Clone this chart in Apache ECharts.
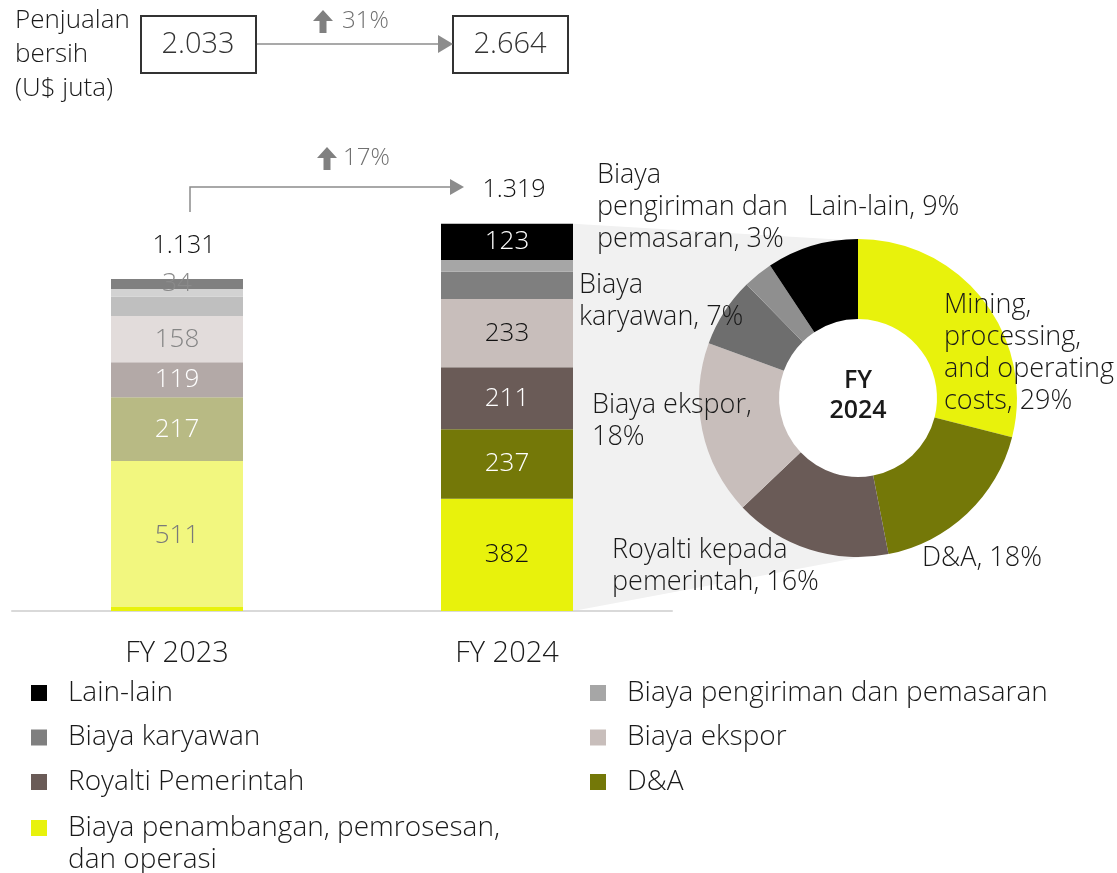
<!DOCTYPE html>
<html>
<head>
<meta charset="utf-8">
<script src="https://cdn.jsdelivr.net/npm/echarts@6/dist/echarts.min.js"></script>
<style>
  html, body { margin: 0; padding: 0; background: #fff; }
  #chart { width: 1117px; height: 873px; }
</style>
</head>
<body>
<div id="chart"></div>
<script>
// values (US$ juta)
const categories = ['FY 2023', 'FY 2024'];
const seriesNames = [
  'Biaya penambangan, pemrosesan, dan operasi',
  'D&A',
  'Royalti Pemerintah',
  'Biaya ekspor',
  'Biaya karyawan',
  'Biaya pengiriman dan pemasaran',
  'Lain-lain'
];
const miningCosts = [511, 382];
const depreciation = [217, 237];
const royalty = [119, 211];
const exportCosts = [158, 233];
const employeeCosts = [66, 93];
const shippingCosts = [26, 40];
const otherCosts = [34, 123];
const totalCosts = [1131, 1319];
const netSales = [2033, 2664];
const salesGrowth = '31%';
const costGrowth = '17%';

const pieNames = [
  'Mining, processing, and operating costs',
  'D&A',
  'Royalti kepada pemerintah',
  'Biaya ekspor',
  'Biaya karyawan',
  'Biaya pengiriman dan pemasaran',
  'Lain-lain'
];
const pieLabelText = [
  'Mining,\nprocessing,\nand operating\ncosts, {p}%',
  'D&A, {p}%',
  'Royalti kepada\npemerintah, {p}%',
  'Biaya ekspor,\n{p}%',
  'Biaya\nkaryawan, {p}%',
  'Biaya\npengiriman dan\npemasaran, {p}%',
  'Lain-lain, {p}%'
];

// styles
const FONT = '"Open Sans", sans-serif';
const W = 300;
const colors2024 = ['#E8F20C', '#747808', '#6A5B57', '#C8BEBB', '#7F7F7F', '#A6A6A6', '#000000'];
const colors2023 = [
  new echarts.graphic.LinearGradient(0, 0, 0, 1, [
    { offset: 0, color: '#F2F77F' }, { offset: 0.973, color: '#F2F77F' },
    { offset: 0.973, color: '#E8F20C' }, { offset: 1, color: '#E8F20C' }
  ]),
  '#B8BA84', '#B3A9A7', '#E2DCDB', '#BFBFBF', '#D2D2D2', '#808080'
];
const pieColors = ['#E8F20C', '#747808', '#6A5B57', '#C8BEBB', '#6E6E6E', '#8F8F8F', '#000000'];
const labelColors2023 = ['#7a7a7a', '#ffffff', '#ffffff', '#858585', null, null, '#8a8a8a'];
const labelColors2024 = ['#111111', '#ffffff', '#ffffff', '#111111', null, null, '#ffffff'];
const pieLabelPos = [[944, 289], [922, 542], [612, 534], [592, 389], [579, 269], [597, 159], [808, 191]];
const pieCenter = [858, 398];
const pieRadius = [79, 159];

function fmt(n) {
  return String(n).replace(/\B(?=(\d{3})+(?!\d))/g, '.');
}

const stackValues = [miningCosts, depreciation, royalty, exportCosts, employeeCosts, shippingCosts, otherCosts];

const barSeries = stackValues.map(function (values, i) {
  return {
    name: seriesNames[i],
    type: 'bar',
    stack: 'cost',
    barWidth: 132,
    itemStyle: { color: colors2024[i] },
    data: values.map(function (v, j) {
      const lc = j === 0 ? labelColors2023[i] : labelColors2024[i];
      return {
        value: v,
        itemStyle: { color: j === 0 ? colors2023[i] : colors2024[i] },
        label: {
          show: lc !== null,
          color: lc || '#000',
          position: 'inside',
          fontFamily: FONT,
          fontWeight: W,
          fontSize: 26
        }
      };
    })
  };
});

// zero-height stack top carrying the total labels
barSeries.push({
  name: 'Total',
  type: 'bar',
  stack: 'cost',
  barWidth: 132,
  data: totalCosts.map(function () { return 0; }),
  label: {
    show: true,
    position: 'top',
    distance: 21,
    offset: [7, 0],
    color: '#111',
    fontFamily: FONT,
    fontWeight: W,
    fontSize: 25,
    formatter: function (p) { return fmt(totalCosts[p.dataIndex]); }
  }
});

const pieSeries = {
  name: 'FY 2024',
  type: 'pie',
  center: pieCenter,
  radius: pieRadius,
  startAngle: 90,
  avoidLabelOverlap: false,
  z: 3,
  label: {
    show: true,
    color: '#1a1a1a',
    fontFamily: FONT,
    fontWeight: W,
    fontSize: 27,
    lineHeight: 32,
    formatter: function (p) {
      return pieLabelText[p.dataIndex].replace('{p}', Math.round(p.percent));
    }
  },
  labelLine: { show: false },
  labelLayout: function (p) {
    const pos = pieLabelPos[p.dataIndex];
    return { x: pos[0], y: pos[1], align: 'left', verticalAlign: 'top' };
  },
  emphasis: { disabled: true },
  data: stackValues.map(function (values, i) {
    return { name: pieNames[i], value: values[1], itemStyle: { color: pieColors[i] } };
  })
};

const legendText = { fontFamily: FONT, fontWeight: W, fontSize: 28, color: '#1a1a1a', lineHeight: 32, padding: [0, 0, 0, 16] };

const graphics = [
  // net sales row
  { id: 'salesTitle', type: 'text', style: { text: 'Penjualan\nbersih\n(U$ juta)', x: 15, y: 4, fontFamily: FONT, fontWeight: W, fontSize: 26, lineHeight: 34, fill: '#1a1a1a' } },
  { id: 'box1', type: 'rect', shape: { x: 141, y: 16, width: 115, height: 57 }, style: { fill: '#fff', stroke: '#333', lineWidth: 2 } },
  { id: 'box1t', type: 'text', style: { text: fmt(netSales[0]), x: 198, y: 45, textAlign: 'center', textVerticalAlign: 'middle', fontFamily: FONT, fontWeight: W, fontSize: 29, fill: '#333' } },
  { id: 'box2', type: 'rect', shape: { x: 453, y: 16, width: 115, height: 57 }, style: { fill: '#fff', stroke: '#333', lineWidth: 2 } },
  { id: 'box2t', type: 'text', style: { text: fmt(netSales[1]), x: 510, y: 45, textAlign: 'center', textVerticalAlign: 'middle', fontFamily: FONT, fontWeight: W, fontSize: 29, fill: '#333' } },
  { id: 'salesLine', type: 'polyline', shape: { points: [[257, 44], [440, 44]] }, style: { stroke: '#8c8c8c', lineWidth: 1.5, fill: null } },
  { id: 'salesHead', type: 'polygon', shape: { points: [[438, 35], [453, 44], [438, 53]] }, style: { fill: '#8c8c8c' } },
  { id: 'salesUp', type: 'polygon', shape: { points: [[323, 10], [333, 21], [326.5, 21], [326.5, 33], [319.5, 33], [319.5, 21], [313, 21]] }, style: { fill: '#808080' } },
  { id: 'salesPct', type: 'text', style: { text: salesGrowth, x: 342, y: 21, textVerticalAlign: 'middle', fontFamily: FONT, fontWeight: W, fontSize: 24, fill: '#707070' } },
  // cost growth bracket
  { id: 'costLine', type: 'polyline', shape: { points: [[190, 212], [190, 187], [452, 187]] }, style: { stroke: '#8c8c8c', lineWidth: 1.5, fill: null } },
  { id: 'costHead', type: 'polygon', shape: { points: [[450, 179], [464, 187], [450, 195]] }, style: { fill: '#8c8c8c' } },
  { id: 'costUp', type: 'polygon', shape: { points: [[327, 147], [337, 158], [330.5, 158], [330.5, 170], [323.5, 170], [323.5, 158], [317, 158]] }, style: { fill: '#808080' } },
  { id: 'costPct', type: 'text', style: { text: costGrowth, x: 343, y: 158, textVerticalAlign: 'middle', fontFamily: FONT, fontWeight: W, fontSize: 24, fill: '#707070' } },
  // donut centre
  { id: 'pieTitle', type: 'text', z: 10, style: { text: 'FY\n2024', x: pieCenter[0], y: pieCenter[1] - 2, textAlign: 'center', textVerticalAlign: 'middle', fontFamily: FONT, fontWeight: 600, fontSize: 25, lineHeight: 30, fill: '#1a1a1a' } }
];

const chart = echarts.init(document.getElementById('chart'));

const option = {
  animation: false,
  backgroundColor: '#fff',
  grid: { left: 12, top: 200, width: 660, height: 411, containLabel: false },
  xAxis: {
    type: 'category',
    data: categories,
    axisLine: { lineStyle: { color: '#d9d9d9', width: 2 } },
    axisTick: { show: false },
    axisLabel: { color: '#1a1a1a', fontFamily: FONT, fontWeight: W, fontSize: 29, margin: 28 }
  },
  yAxis: { type: 'value', min: 0, max: 1400, show: false, splitLine: { show: false } },
  legend: [
    {
      orient: 'vertical', left: 31, top: 677, padding: 0, itemGap: 12.5,
      itemWidth: 16, itemHeight: 16, icon: 'rect', selectedMode: false,
      textStyle: legendText,
      data: ['Lain-lain', 'Biaya karyawan', 'Royalti Pemerintah']
    },
    {
      // square sits beside the first of the two text lines
      orient: 'vertical', left: 31, top: 812, padding: 0,
      itemWidth: 16, itemHeight: 48, selectedMode: false,
      icon: 'path://M0,0H16V16H0Z M0,47.99H16V48H0Z',
      textStyle: legendText,
      formatter: function () { return 'Biaya penambangan, pemrosesan,\ndan operasi'; },
      data: [seriesNames[0]]
    },
    {
      orient: 'vertical', left: 590, top: 677, padding: 0, itemGap: 12.5,
      itemWidth: 16, itemHeight: 16, icon: 'rect', selectedMode: false,
      textStyle: legendText,
      data: ['Biaya pengiriman dan pemasaran', 'Biaya ekspor', 'D&A']
    }
  ],
  graphic: { elements: graphics },
  series: barSeries.concat([pieSeries])
};

chart.setOption(option);

// grey "zoom" band from the FY 2024 bar to the donut
const topPt = chart.convertToPixel({ xAxisIndex: 0, yAxisIndex: 0 }, [categories[1], totalCosts[1]]);
const basePt = chart.convertToPixel({ xAxisIndex: 0, yAxisIndex: 0 }, [categories[1], 0]);
const barRight = topPt[0] + 66;
const p1 = [barRight, topPt[1]];
const p2 = [barRight, basePt[1]];
const r = pieRadius[1] - 2;

function tangentAngle(p, sign) {
  const dx = p[0] - pieCenter[0], dy = p[1] - pieCenter[1];
  const d = Math.hypot(dx, dy);
  return Math.atan2(dy, dx) + sign * Math.acos(r / d);
}

const a1 = tangentAngle(p1, 1);
const a2 = tangentAngle(p2, -1) - 2 * Math.PI;
const band = [p1];
for (let k = 0; k <= 40; k++) {
  const a = a1 + (a2 - a1) * k / 40;
  band.push([pieCenter[0] + r * Math.cos(a), pieCenter[1] + r * Math.sin(a)]);
}
band.push(p2);

chart.setOption({
  graphic: {
    elements: [
      { id: 'zoomBand', type: 'polygon', z: -1, shape: { points: band }, style: { fill: '#f1f1f1' } }
    ]
  }
});
</script>
</body>
</html>
